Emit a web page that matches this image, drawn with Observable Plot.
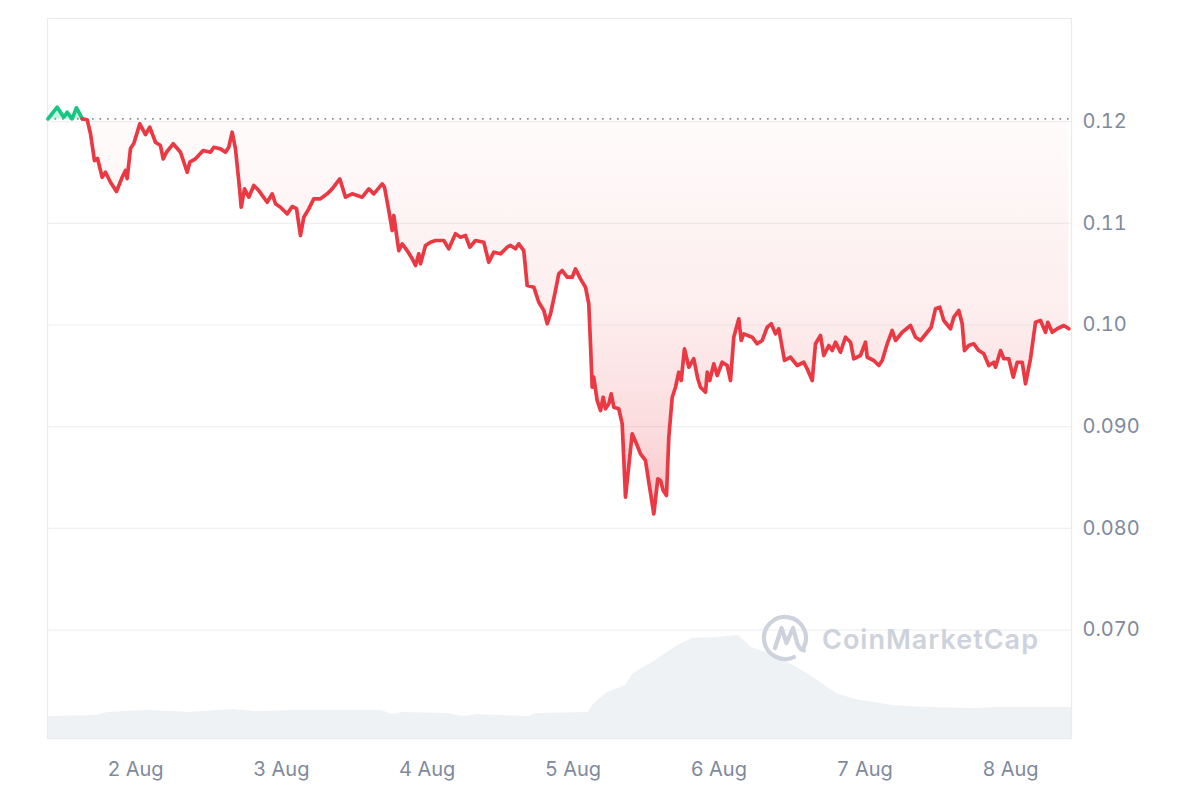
<!DOCTYPE html>
<html>
<head>
<meta charset="utf-8">
<script src="https://cdn.jsdelivr.net/npm/d3@7"></script>
<script src="https://cdn.jsdelivr.net/npm/@observablehq/plot@0.6"></script>
<style>
  html, body { margin: 0; padding: 0; background: #ffffff; }
  #chart { width: 1200px; height: 800px; }
</style>
</head>
<body>
<div id="chart"></div>
<script>
// ---- Data (hours since 1 Aug 2024 00:00 UTC) ----
const startDate = Date.UTC(2024, 7, 1);
const openPrice = 0.12026;   // dotted reference line (price at the start of the window)

const priceHours = [
  9.60, 11.11, 12.20, 12.76, 13.58, 14.29, 14.83, 15.23, 16.05, 16.59,
  17.25, 17.75, 18.52, 19.06, 19.89, 20.87, 21.81, 22.35, 22.63, 23.18,
  23.72, 24.71, 25.65, 26.35, 27.29, 28.11, 28.56, 29.10, 30.20, 31.41,
  32.51, 32.94, 33.87, 35.14, 36.34, 36.89, 37.99, 38.81, 39.35, 39.91,
  40.46, 41.16, 41.40, 41.94, 42.65, 43.47, 44.29, 45.67, 46.50, 47.04,
  47.86, 48.97, 49.79, 50.50, 51.15, 51.70, 52.52, 53.34, 54.45, 55.55,
  56.37, 57.62, 58.56, 59.66, 61.31, 62.40, 63.22, 64.60, 64.98, 65.69,
  66.25, 66.51, 67.33, 67.89, 68.71, 69.54, 70.08, 70.62, 70.90, 71.73,
  72.55, 73.37, 74.74, 75.56, 76.66, 77.49, 78.31, 79.02, 79.95, 81.32,
  82.14, 82.97, 84.07, 85.17, 85.72, 86.54, 87.08, 87.90, 88.46, 89.55,
  90.37, 91.20, 91.76, 92.30, 93.12, 93.66, 94.22, 95.05, 95.87, 96.41,
  97.23, 98.06, 98.60, 98.88, 99.16, 99.42, 99.98, 100.53, 100.97, 101.35,
  101.89, 102.29, 102.72, 103.54, 104.10, 104.64, 105.74, 106.57, 107.11, 107.93,
  108.48, 109.30, 109.96, 110.40, 110.85, 111.39, 111.77, 112.33, 112.87, 113.41,
  113.81, 114.35, 115.06, 115.88, 116.54, 116.98, 117.81, 118.09, 118.51, 119.17,
  119.73, 120.55, 121.38, 121.92, 122.46, 123.29, 123.68, 124.11, 125.49, 126.31,
  127.14, 127.96, 128.62, 129.33, 129.87, 130.81, 131.79, 132.90, 133.98, 134.54,
  135.37, 135.91, 136.73, 137.27, 138.10, 138.66, 139.20, 140.02, 140.85, 141.67,
  142.21, 143.31, 144.14, 144.42, 145.50, 146.33, 146.89, 147.71, 148.53, 149.08,
  150.18, 151.54, 152.37, 153.19, 154.29, 154.95, 155.66, 156.37, 157.02, 158.13,
  158.67, 159.49, 160.05, 160.43, 161.14, 161.96, 162.78, 163.61, 164.43, 165.25,
  165.53, 166.36, 166.90, 167.72, 168.45, 169.11, 169.93, 170.47, 171.29, 172.12,
  172.94, 173.76, 174.14, 174.87, 175.69, 176.78, 177.60
];

const prices = [
  0.12026, 0.12142, 0.12043, 0.12092, 0.12027, 0.12136, 0.12077, 0.12027, 0.12018, 0.11883,
  0.11617, 0.11637, 0.11453, 0.11502, 0.11404, 0.11313, 0.11453, 0.11519, 0.11440, 0.11735,
  0.11785, 0.11978, 0.11873, 0.11945, 0.11797, 0.11765, 0.11634, 0.11699, 0.11782, 0.11699,
  0.11502, 0.11601, 0.11634, 0.11716, 0.11699, 0.11748, 0.11732, 0.11699, 0.11748, 0.11896,
  0.11732, 0.11322, 0.11158, 0.11339, 0.11257, 0.11372, 0.11322, 0.11207, 0.11290, 0.11192,
  0.11158, 0.11093, 0.11165, 0.11145, 0.10880, 0.11060, 0.11142, 0.11241, 0.11241, 0.11290,
  0.11339, 0.11437, 0.11257, 0.11290, 0.11257, 0.11339, 0.11290, 0.11388, 0.11355, 0.11126,
  0.10929, 0.11077, 0.10732, 0.10798, 0.10732, 0.10651, 0.10585, 0.10700, 0.10602, 0.10782,
  0.10814, 0.10831, 0.10831, 0.10749, 0.10897, 0.10863, 0.10880, 0.10765, 0.10831, 0.10814,
  0.10617, 0.10716, 0.10700, 0.10765, 0.10782, 0.10749, 0.10798, 0.10732, 0.10388, 0.10372,
  0.10224, 0.10142, 0.10012, 0.10110, 0.10339, 0.10503, 0.10536, 0.10470, 0.10470, 0.10552,
  0.10454, 0.10372, 0.10208, 0.09815, 0.09388, 0.09487, 0.09258, 0.09159, 0.09290, 0.09176,
  0.09225, 0.09323, 0.09192, 0.09176, 0.09028, 0.08307, 0.08930, 0.08815, 0.08733, 0.08668,
  0.08454, 0.08143, 0.08488, 0.08471, 0.08373, 0.08323, 0.08897, 0.09290, 0.09388, 0.09536,
  0.09454, 0.09766, 0.09585, 0.09668, 0.09471, 0.09388, 0.09339, 0.09536, 0.09454, 0.09618,
  0.09503, 0.09634, 0.09602, 0.09454, 0.09880, 0.10061, 0.09848, 0.09913, 0.09880, 0.09815,
  0.09848, 0.09978, 0.10012, 0.09913, 0.09963, 0.09651, 0.09683, 0.09602, 0.09634, 0.09569,
  0.09454, 0.09815, 0.09897, 0.09700, 0.09798, 0.09749, 0.09831, 0.09732, 0.09880, 0.09831,
  0.09668, 0.09700, 0.09831, 0.09683, 0.09651, 0.09602, 0.09651, 0.09815, 0.09946, 0.09848,
  0.09929, 0.09995, 0.09880, 0.09848, 0.09929, 0.09978, 0.10159, 0.10175, 0.10044, 0.09963,
  0.10077, 0.10142, 0.10012, 0.09749, 0.09798, 0.09815, 0.09749, 0.09717, 0.09602, 0.09634,
  0.09585, 0.09749, 0.09668, 0.09668, 0.09487, 0.09634, 0.09634, 0.09422, 0.09668, 0.10027,
  0.10044, 0.09929, 0.10027, 0.09929, 0.09963, 0.09995, 0.09963
];

// trading volume (relative units)
const volumeHours = [
  9.52, 17.42, 19.39, 25.48, 30.25, 32.72, 40.12, 43.74, 50.99, 64.48,
  66.30, 68.11, 75.35, 77.82, 80.28, 83.90, 88.84, 90.00, 98.55, 99.21,
  100.03, 101.68, 104.64, 105.96, 109.58, 113.20, 115.67, 119.29, 123.23, 125.38,
  130.32, 135.09, 139.37, 142.49, 148.58, 154.67, 161.91, 165.69, 178.04
];
const volumes = [
  22, 23, 26, 28, 27, 26, 29, 27, 28, 28,
  24, 26, 25, 22, 24, 23, 22, 25, 26, 33,
  38, 46, 53, 65, 78, 93, 100, 101, 103, 91,
  80, 63, 45, 39, 33, 31, 30, 31, 31
];

const yTicks = [0.07, 0.08, 0.09, 0.10, 0.11, 0.12];
const yTickLabels = ["0.070", "0.080", "0.090", "0.10", "0.11", "0.12"];
const xTickDays = [2, 3, 4, 5, 6, 7, 8];
const xTickLabels = ["2 Aug", "3 Aug", "4 Aug", "5 Aug", "6 Aug", "7 Aug", "8 Aug"];

// ---- Build ----
const toDate = h => new Date(startDate + h * 3600e3);
const priceData = priceHours.map((h, i) => ({t: toDate(h), h, p: prices[i]}));
const volData = volumeHours.map((h, i) => ({t: toDate(h), v: volumes[i]}));
const xTicks = xTickDays.map(d => new Date(Date.UTC(2024, 7, d)));

const xDomain = [toDate(9.52), toDate(178.04)];
const yDomain = [0.05934, 0.13014];
const volSpan = 720; // volume units spanning the full plot height
const volY = v => yDomain[0] + v / volSpan * (yDomain[1] - yDomain[0]);

const crossH = 15.23;
const greenData = priceData.filter(d => d.h <= crossH);
const redData = priceData.filter(d => d.h >= crossH);

const red = "#ea3943";
const green = "#16c784";
const grey = "#808a9d";

const chart = Plot.plot({
  width: 1200,
  height: 800,
  marginLeft: 47,
  marginRight: 129,
  marginTop: 18,
  marginBottom: 62,
  style: {fontFamily: "Inter, 'Noto Sans', sans-serif", fontSize: "20px", color: grey, background: "#ffffff"},
  x: {type: "utc", domain: xDomain, label: null},
  y: {domain: yDomain, label: null},
  marks: [
    Plot.areaY(volData, {x: "t", y1: yDomain[0], y2: d => volY(d.v), fill: "#eff2f5"}),
    Plot.ruleY(yTicks, {stroke: "#eff0f2", strokeWidth: 1.2}),
    Plot.frame({stroke: "#ebebeb", strokeWidth: 1.2}),
    Plot.areaY(priceData, {x: "t", y1: openPrice, y2: d => Math.min(d.p, openPrice), fill: "url(#redFade)"}),
    Plot.areaY(greenData, {x: "t", y1: openPrice, y2: d => Math.max(d.p, openPrice), fill: green, fillOpacity: 0.25}),
    Plot.ruleY([openPrice], {stroke: "#8a909c", strokeWidth: 1.7, strokeDasharray: "1.7,5.8"}),
    Plot.line(greenData, {x: "t", y: "p", stroke: green, strokeWidth: 3.7, strokeLinejoin: "round"}),
    Plot.line(redData, {x: "t", y: "p", stroke: red, strokeWidth: 3.7, strokeLinejoin: "round"}),
    Plot.axisY(yTicks, {anchor: "right", label: null, tickSize: 0, tickPadding: 11, textAnchor: "start",
      tickFormat: (d, i) => yTickLabels[i], fontSize: 20, fill: grey}),
    Plot.axisX(xTicks, {anchor: "bottom", label: null, tickSize: 0, tickPadding: 23,
      tickFormat: (d, i) => xTickLabels[i], fontSize: 20, fill: grey})
  ]
});

// gradient definition for the red fill
const svg = d3.select(chart);
svg.insert("defs", ":first-child").html(`
  <linearGradient id="redFade" x1="0" y1="0" x2="0" y2="1">
    <stop offset="0" stop-color="${red}" stop-opacity="0.02"/>
    <stop offset="0.5" stop-color="${red}" stop-opacity="0.09"/>
    <stop offset="0.8" stop-color="${red}" stop-opacity="0.18"/>
    <stop offset="1" stop-color="${red}" stop-opacity="0.3"/>
  </linearGradient>`);

// CoinMarketCap watermark (decorative), placed relative to the frame
const frameRight = 1200 - 129;
const wmColor = "#cdd2dc";
const wm = svg.append("g").attr("text-anchor", "start").attr("pointer-events", "none");
const cx = frameRight - 286, cy = 638, r = 21;
const arcPt = a => [cx + r * Math.cos(a * Math.PI / 180), cy + r * Math.sin(a * Math.PI / 180)];
const [ax0, ay0] = arcPt(65), [ax1, ay1] = arcPt(28);
wm.append("path")
  .attr("d", `M${ax0},${ay0} A${r},${r} 0 1 1 ${ax1},${ay1}`)
  .attr("fill", "none").attr("stroke", wmColor).attr("stroke-width", 4.2).attr("stroke-linecap", "round");
wm.append("path")
  .attr("d", `M${cx-10},${cy+10} L${cx-3.5},${cy-10} L${cx+1.5},${cy+5} L${cx+8},${cy-10} L${cx+12.5},${cy+6} Q${cx+15},${cy+12} ${cx+19},${cy+12.5}`)
  .attr("fill", "none").attr("stroke", wmColor).attr("stroke-width", 4.2)
  .attr("stroke-linejoin", "round").attr("stroke-linecap", "round");
wm.append("text").attr("x", cx + 37).attr("y", cy + 11)
  .attr("text-anchor", "start")
  .attr("font-family", "Inter, sans-serif").attr("font-size", 27).attr("font-weight", 600)
  .attr("letter-spacing", 1)
  .attr("fill", wmColor).text("CoinMarketCap");

document.getElementById("chart").appendChild(chart);
</script>
</body>
</html>
